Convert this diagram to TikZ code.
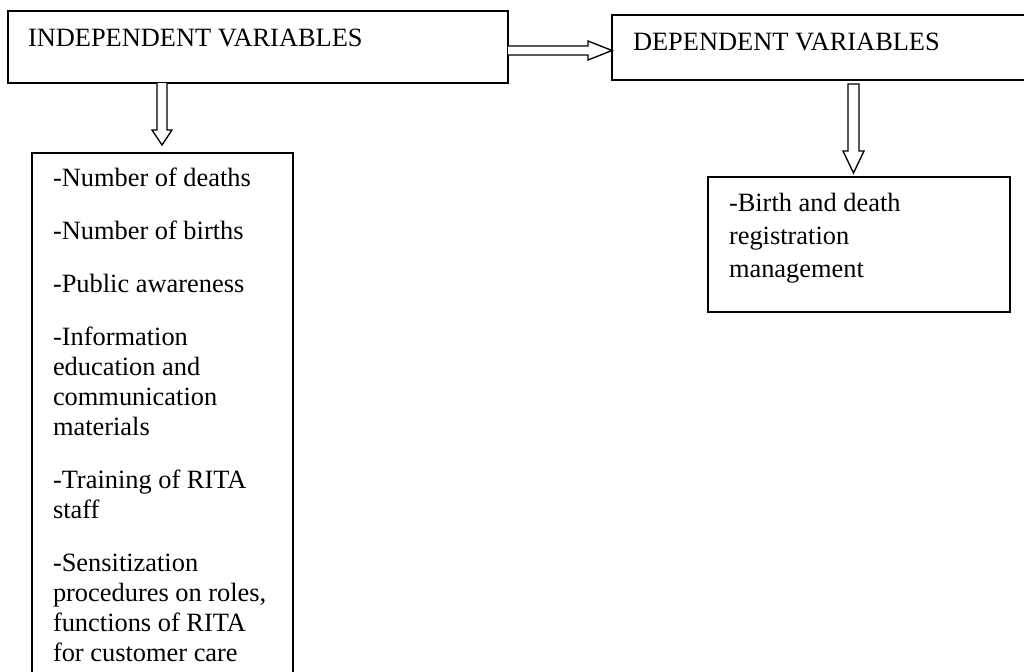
\documentclass[tikz,border=0pt]{standalone}
\usepackage{fontspec}
\setmainfont{Liberation Serif}
\usetikzlibrary{calc,fit}
\begin{document}
\begin{tikzpicture}[x=0.75pt,y=-0.75pt,
  box/.style={draw,line width=1.1pt,inner sep=0pt,outer sep=0pt},
  txt/.style={anchor=base west,inner sep=0pt,outer sep=0pt,font=\fontsize{19.8}{22.5}\selectfont},
  blk/.style={draw,line width=1pt,fill=white,line join=miter}]
\clip (0,0) rectangle (1024,671);
\fill[white] (0,0) rectangle (1024,671);
% boxes
\node[box,fit={(8,11) (508,83)}] (ind) {};
\node[box,fit={(612,15) (1034,80)}] (dep) {};
\node[box,fit={(32,153) (293,690)}] (indlist) {};
\node[box,fit={(708,177) (1010,312)}] (deplist) {};
% titles
\node[txt] (indt) at (28,46) {INDEPENDENT VARIABLES};
\node[txt] (dept) at (633,50) {DEPENDENT VARIABLES};
% independent list
\node[txt] (l1) at (53,186.5) {-Number of deaths};
\node[txt] (l2) at (53,239.5) {-Number of births};
\node[txt] (l3) at (53,292.5) {-Public awareness};
\node[txt] (l4) at (53,345.5) {-Information};
\node[txt] (l5) at (53,375.5) {education and};
\node[txt] (l6) at (53,405.5) {communication};
\node[txt] (l7) at (53,435.5) {materials};
\node[txt] (l8) at (53,488.5) {-Training of RITA};
\node[txt] (l9) at (53,518.5) {staff};
\node[txt] (l10) at (53,571.5) {-Sensitization};
\node[txt] (l11) at (53,601.5) {procedures on roles,};
\node[txt] (l12) at (53,631.5) {functions of RITA};
\node[txt] (l13) at (53,661.5) {for customer care};
% dependent list
\node[txt] (d1) at (729,211) {-Birth and death};
\node[txt] (d2) at (729,244) {registration};
\node[txt] (d3) at (729,277) {management};
% right block arrow ind -> dep
\draw[blk] ($(ind.north east)+(0,35)$) -- ++(80,0) -- ++(0,-5)
  -- ($(dep.north west)+(0,35.5)$)
  -- ($(ind.north east)+(80,49)$) -- ++(0,-5) -- ($(ind.north east)+(0,44)$);
% down block arrow ind -> indlist
\draw[blk] ($(ind.south west)+(149,0)$) -- ++(0,47) -- ++(-5,0)
  -- ($(indlist.north west)+(130,-8)$)
  -- ($(ind.south west)+(164,47)$) -- ++(-5,0) -- ($(ind.south west)+(159,0)$);
% down block arrow dep -> deplist
\draw[blk] ($(dep.south west)+(236,4)$) -- ++(0,67) -- ++(-5,0)
  -- ($(deplist.north west)+(145.5,-4)$)
  -- ($(dep.south west)+(252,71)$) -- ++(-5,0) -- ($(dep.south west)+(247,4)$) -- cycle;
\end{tikzpicture}
\end{document}
